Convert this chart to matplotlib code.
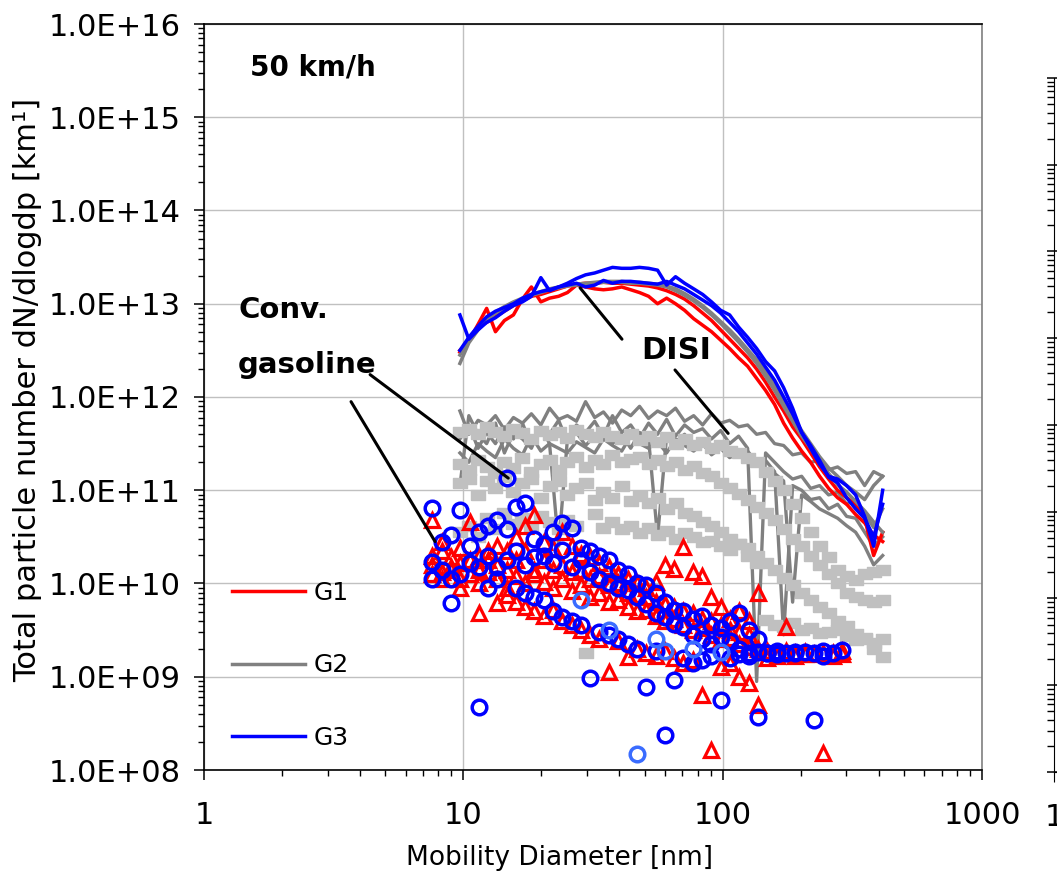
import numpy as np
import matplotlib
matplotlib.use("Agg")
import matplotlib.pyplot as plt
from matplotlib.lines import Line2D
from matplotlib.ticker import LogLocator, NullFormatter, FuncFormatter

nan = np.nan

# --- DATA (values are log10 of dN/dlogdp) ---
# DISI vehicle, SMPS channels [nm]
d_disi = [9.7, 10.5, 11.4, 12.3, 13.3, 14.4, 15.6, 16.9,
          18.3, 19.9, 21.5, 23.3, 25.2, 27.3, 29.6, 32.1,
          34.7, 37.6, 40.8, 44.2, 47.8, 51.8, 56.1, 60.8,
          65.8, 71.3, 77.3, 83.7, 90.6, 98.2, 106.4, 115.2,
          124.8, 135.2, 146.4, 158.6, 171.8, 186.1, 201.6, 218.4,
          236.5, 256.2, 277.5, 300.6, 325.6, 352.7, 382.1, 414.0]

disi_g1a = [12.50, 12.60, 12.78, 12.95, 12.70, 12.82, 12.88, 13.05,
            13.18, 13.02, 13.06, 13.08, 13.12, 13.20, 13.18, 13.16,
            13.15, 13.16, 13.18, 13.15, 13.12, 13.08, 13.00, 13.06,
            13.00, 12.93, 12.84, 12.77, 12.70, 12.61, 12.52, 12.42,
            12.33, 12.20, 12.07, 11.92, 11.72, 11.56, 11.42, 11.30,
            11.15, 11.02, 10.92, 10.85, 10.74, 10.65, 10.52, 10.45]
disi_g1b = [12.48, 12.62, 12.75, 12.80, 12.86, 12.92, 12.98, 13.03,
            13.08, 13.10, 13.13, 13.16, 13.19, 13.21, 13.22, 13.22,
            13.23, 13.22, 13.22, 13.21, 13.20, 13.19, 13.17, 13.14,
            13.10, 13.05, 12.98, 12.90, 12.82, 12.72, 12.62, 12.52,
            12.42, 12.30, 12.16, 12.00, 11.85, 11.68, 11.55, 11.40,
            11.25, 11.12, 11.00, 10.92, 10.85, 10.70, 10.30, 10.55]
disi_g2a = [12.36, 12.58, 12.72, 12.82, 12.90, 12.95, 13.00, 13.05,
            13.09, 13.12, 13.15, 13.17, 13.19, 13.20, 13.21, 13.22,
            13.23, 13.23, 13.23, 13.22, 13.22, 13.21, 13.20, 13.18,
            13.14, 13.09, 13.03, 12.96, 12.88, 12.79, 12.69, 12.59,
            12.48, 12.36, 12.22, 12.07, 11.90, 11.74, 11.58, 11.45,
            11.30, 11.18, 11.06, 10.98, 10.88, 10.78, 10.66, 10.55]
disi_g2b = [12.45, 12.60, 12.74, 12.84, 12.91, 12.97, 13.02, 13.06,
            13.10, 13.13, 13.16, 13.18, 13.20, 13.21, 13.22, 13.23,
            13.24, 13.24, 13.24, 13.23, 13.23, 13.22, 13.21, 13.19,
            13.16, 13.11, 13.05, 12.98, 12.90, 12.81, 12.72, 12.62,
            12.51, 12.40, 12.27, 12.12, 11.96, 11.80, 11.64, 11.50,
            11.36, 11.24, 11.15, 11.05, 10.98, 10.90, 11.05, 11.15]
disi_g3a = [12.88, 12.62, 12.72, 12.80, 12.85, 12.92, 12.98, 13.02,
            13.08, 13.28, 13.14, 13.18, 13.22, 13.27, 13.31, 13.33,
            13.36, 13.39, 13.38, 13.38, 13.39, 13.38, 13.36, 13.20,
            13.29, 13.22, 13.16, 13.10, 13.02, 12.93, 12.88, 12.75,
            12.64, 12.52, 12.38, 12.28, 12.10, 11.88, 11.62, 11.45,
            11.28, 11.15, 11.12, 11.05, 10.95, 10.72, 10.40, 11.00]
disi_g3b = [12.50, 12.64, 12.76, 12.86, 12.92, 12.96, 13.00, 13.06,
            13.10, 13.13, 13.15, 13.18, 13.20, 13.22, 13.18, 13.20,
            13.25, 13.22, 13.24, 13.24, 13.23, 13.22, 13.21, 13.24,
            13.20, 13.16, 13.10, 13.04, 12.98, 12.90, 12.80, 12.70,
            12.58, 12.46, 12.32, 12.18, 12.00, 11.82, 11.62, 11.48,
            11.32, 11.14, 11.08, 10.92, 10.80, 10.70, 10.50, 10.85]

# noisy G2 lines (dark grey)
grey_a = [11.85, 11.60, 11.75, 11.70, 11.80, 11.65, 11.78, 11.72,
          11.82, 11.70, 11.88, 11.76, 11.80, 11.74, 11.95, 11.78,
          11.84, 11.72, 11.86, 11.80, 11.90, 11.77, 11.85, 11.80,
          11.88, 11.74, 11.80, 11.70, 11.82, 11.72, 11.75, 11.68,
          11.70, 11.60, 11.62, 11.50, 11.48, 11.38, 11.40, 11.30,
          11.32, 11.22, 11.25, 11.18, 11.20, 11.05, 11.20, 11.15]
grey_b = [11.55, 11.70, 11.45, 11.62, 11.50, 11.68, 11.55, 11.72,
          11.48, 11.66, 11.60, 11.75, 11.52, 11.70, 11.62, 11.74,
          11.58, 11.80, 11.62, 11.70, 11.56, 11.72, 11.60, 11.76,
          11.58, 11.70, 11.62, 11.66, 11.55, 11.64, 11.50, 11.58,
          11.45, 8.95, 11.40, 11.30, 11.20, 11.12, 11.15, 11.02,
          11.05, 10.95, 10.98, 10.85, 10.90, 10.75, 10.60, 10.80]
grey_c = [11.05, 11.80, 11.60, 11.50, 11.72, 11.40, 11.62, 11.55,
          11.45, 11.68, 11.50, 10.40, 11.55, 11.62, 11.48, 11.58,
          11.65, 11.50, 11.60, 11.45, 11.62, 11.55, 10.50, 11.58,
          11.52, 11.60, 11.48, 11.55, 11.40, 11.52, 11.45, 11.38,
          11.42, 11.30, 11.32, 11.20, 9.45, 11.05, 11.00, 10.90,
          10.92, 10.80, 10.85, 10.72, 10.70, 10.55, 10.40, 10.50]
grey_d = [11.40, 11.30, 11.50, 11.42, 11.35, 11.55, 11.45, 11.38,
          11.58, 11.42, 11.50, 11.45, 11.40, 11.52, 11.46, 11.40,
          11.55, 11.48, 11.42, 11.58, 11.50, 11.45, 11.52, 11.40,
          11.55, 11.48, 11.42, 11.50, 11.38, 11.45, 11.35, 11.40,
          11.30, 11.32, 11.22, 11.18, 11.10, 9.80, 10.95, 10.88,
          10.80, 10.75, 10.70, 10.62, 10.55, 10.40, 10.20, 10.30]

# light grey squares
sq_1 = [11.62, 11.66, 11.60, 11.68, 11.63, 11.58, 11.66, 11.61,
        11.55, 11.64, 11.59, 11.62, 11.56, 11.65, 11.60, 11.57,
        11.63, 11.58, 11.55, 11.60, 11.54, 11.58, 11.52, 11.57,
        11.50, 11.55, 11.48, 11.52, 11.45, 11.48, 11.42, 11.40,
        11.35, 11.30, 11.20, 11.10, 11.00, 10.85, 10.70, 10.55,
        10.40, 10.28, 10.15, 10.08, 10.04, 10.10, 10.12, 10.14]
sq_2 = [11.28, 11.22, 11.32, 11.25, 11.18, 11.30, 11.24, 11.35,
        11.20, 11.28, 11.32, 11.22, 11.30, 11.36, 11.25, 11.32,
        11.28, 11.38, 11.30, 11.34, 11.36, 11.28, 11.32, 11.26,
        11.30, 11.22, 11.26, 11.18, 11.15, 11.08, 11.02, 10.96,
        10.90, 10.82, 10.76, 10.68, 10.58, 10.48, 10.40, 10.30,
        10.20, 10.10, 10.00, 9.90, 9.85, 9.82, 9.80, 9.82]
sq_3 = [11.08, 11.12, 10.95, 11.10, 11.02, 11.14, 10.98, 11.08,
        11.12, 10.92, 11.05, 11.10, 10.95, 11.02, 11.08, 10.90,
        10.98, 10.92, 11.05, 10.88, 10.94, 10.86, 10.92, 10.80,
        10.86, 10.76, 10.72, 10.66, 10.62, 10.55, 10.48, 10.42,
        10.38, 10.30, 10.22, 10.14, 10.06, 9.98, 9.90, 9.82,
        9.75, 9.68, 9.60, 9.54, 9.46, 9.40, 9.30, 9.21]
sq_4 = [10.55, 10.62, 10.50, 10.70, 10.58, 10.76, 10.64, 10.70,
        10.60, 10.72, 10.66, 10.58, 10.68, 10.62, 9.25, 10.74,
        10.60, 10.66, 10.58, 10.62, 10.54, 10.60, 10.52, 10.56,
        10.48, 10.54, 10.50, 10.44, 10.46, 10.40, 10.36, 10.42,
        10.30, 10.22, 9.61, 9.55, 9.53, 9.58, 9.50, 9.52,
        9.47, 9.48, 9.50, 9.44, 9.39, 9.42, 9.36, 9.40]

# conventional gasoline vehicle, SMPS channels [nm]
d_conv = [7.6, 8.3, 9.0, 9.7, 10.6, 11.5, 12.5, 13.5, 14.7,
          16.0, 17.3, 18.8, 20.4, 22.2, 24.1, 26.2, 28.4, 30.9,
          33.5, 36.4, 39.6, 43.0, 46.7, 50.7, 55.1, 59.8, 65.0,
          70.6, 76.7, 83.3, 90.5, 98.3, 106.8, 116.0, 126.0, 136.9,
          148.7, 161.5, 175.5, 190.6, 207.1, 225.0, 244.4, 265.5, 288.4]

tri_1 = [10.68, 10.35, 10.28, 10.22, 10.66, 10.30, 10.25, 10.40, 10.35,
         10.50, 10.62, 10.73, 10.45, 10.38, 10.55, 10.40, 10.32, 10.28,
         10.22, 10.18, 10.10, 10.05, 10.00, 9.95, 10.02, 10.20, 10.16,
         10.39, 10.12, 10.08, 9.85, 9.75, 9.62, 9.70, 9.60, 9.90,
         nan, nan, 9.53, nan, nan, nan, nan, nan, nan]
tri_2 = [10.20, 10.12, 10.15, 10.05, 10.10, 10.00, 10.12, 10.05, 9.95,
         10.08, 10.00, 10.15, 10.02, 9.95, 10.05, 9.92, 9.98, 9.85,
         9.90, 9.80, 9.82, 9.75, 9.70, 9.72, 9.65, 9.60, 9.62,
         9.55, 9.50, 9.52, 9.45, 9.40, 9.42, 9.35, 9.32, 9.30,
         9.28, 9.26, 9.28, 9.25, 9.27, 9.24, 9.26, 9.25, 9.28]
tri_3 = [10.10, 10.05, nan, 9.95, nan, 9.68, nan, 9.79, 9.88,
         9.80, 9.75, 9.70, 9.65, 9.72, 9.60, 9.55, 9.50, 9.45,
         9.40, 9.05, 9.38, 9.21, 9.30, 9.25, 9.22, 9.28, 9.20,
         9.15, 9.18, 8.80, 8.21, 9.10, 9.15, 9.00, 8.93, 8.70,
         9.20, 9.22, 9.25, 9.22, 9.24, nan, 8.18, 9.22, 9.24]
tri_4 = [10.30, 10.45, 10.18, 10.38, 10.25, 10.15, 10.35, 10.20, 10.15,
         10.25, 10.35, 10.10, 10.25, 10.15, 10.20, 10.12, 10.15, 10.05,
         10.08, 9.98, 10.00, 9.90, 9.88, 9.85, 9.80, 9.78, 9.75,
         9.70, 9.68, 9.62, 9.60, 9.55, 9.50, 9.48, 9.45, nan,
         nan, nan, nan, nan, nan, nan, nan, nan, nan]

circ_1 = [10.81, 10.45, 10.52, 10.79, 10.40, 10.55, 10.62, 10.68, 10.58,
          10.82, 10.86, 10.48, 10.42, 10.55, 10.65, 10.60, 10.38, 10.35,
          10.30, 10.25, 10.15, 10.10, 10.00, 9.98, 9.90, 9.80, 9.72,
          9.70, 9.62, 9.65, 9.55, 9.52, 9.60, 9.68, 9.50, 9.40,
          nan, 9.28, nan, nan, nan, nan, nan, nan, nan]
circ_2 = [10.23, 10.15, 10.05, 10.10, 10.22, 10.18, 10.30, 10.18, 10.25,
          10.35, 10.20, 10.28, 10.30, 10.22, 10.36, 10.18, 10.25, 10.12,
          10.05, 10.00, 9.95, 9.93, 9.85, 9.78, 9.68, 9.64, 9.57,
          9.53, 9.45, 9.40, 9.35, 9.43, 9.38, 9.30, 9.25, 9.27,
          9.25, 9.24, 9.26, 9.25, 9.27, 9.26, 9.28, 9.26, 9.29]
circ_3 = [10.05, nan, 9.79, nan, nan, 8.68, 9.95, 10.05, 11.13,
          9.95, 9.90, 9.85, 9.82, 9.70, 9.64, 9.60, 9.55, 8.99,
          9.48, 9.45, 9.40, 9.35, 9.30, 8.89, 9.28, 8.38, 8.97,
          9.20, 9.15, 9.18, 9.22, 8.75, 9.20, 9.24, 9.22, 8.57,
          9.25, nan, nan, 9.27, nan, 8.54, 9.22, nan, nan]
circ_light = [nan, nan, nan, nan, nan, nan, nan, nan, nan,
              nan, nan, nan, nan, nan, nan, nan, 9.82, nan,
              nan, 9.50, nan, nan, 8.17, nan, 9.40, 9.28, nan,
              nan, 9.30, nan, nan, 9.27, nan, nan, nan, nan,
              nan, nan, nan, nan, nan, nan, nan, nan, nan]

legend_labels = ["G1", "G2", "G3"]

RED = "#ff0000"
BLUE = "#0000ff"
GREY = "#808080"
LGREY = "#c0c0c0"


def val(a):
    return 10 ** np.array(a, dtype=float)


fig = plt.figure(figsize=(10.57, 8.8), dpi=100)
ax = fig.add_axes([204 / 1057, 110 / 880, 778 / 1057, 746 / 880])
ax.set_xscale("log")
ax.set_yscale("log")

# noisy grey lines
for g in [grey_a, grey_b, grey_c, grey_d]:
    ax.plot(d_disi, val(g), color=GREY, lw=2.4, zorder=2)

# light grey squares
sq_marker = [(-1, -0.65), (1, -0.65), (1, 0.65), (-1, 0.65), (-1, -0.65)]
for s in [sq_1, sq_2, sq_3, sq_4]:
    ax.plot(d_disi, val(s), ls="none", marker=sq_marker, ms=10.5,
            color=LGREY, mec=LGREY, zorder=3)

# triangles and circles
for t in [tri_1, tri_2, tri_3, tri_4]:
    ax.plot(d_conv, val(t), ls="none", marker="^", ms=10.5, mfc="none",
            mec=RED, mew=2.3, zorder=4)
for c in [circ_1, circ_2, circ_3]:
    ax.plot(d_conv, val(c), ls="none", marker="o", ms=10.5, mfc="none",
            mec=BLUE, mew=2.5, zorder=5)
ax.plot(d_conv, val(circ_light), ls="none", marker="o", ms=10.5, mfc="none",
        mec="#3a6cff", mew=2.5, zorder=5)

# DISI lines
for y, col in [(disi_g1a, RED), (disi_g1b, RED), (disi_g2a, GREY),
               (disi_g2b, GREY), (disi_g3b, BLUE), (disi_g3a, BLUE)]:
    ax.plot(d_disi, val(y), color=col, lw=2.5, zorder=6)

ax.set_xlim(1, 1000)
ax.set_ylim(1e8, 1e16)

ax.yaxis.set_major_locator(LogLocator(base=10, numticks=20))
ax.yaxis.set_minor_locator(LogLocator(base=10, subs=np.arange(2, 10), numticks=20))
ax.yaxis.set_major_formatter(FuncFormatter(lambda v, p: f"{v:.1E}"))
ax.yaxis.set_minor_formatter(NullFormatter())
ax.xaxis.set_major_formatter(FuncFormatter(lambda v, p: f"{v:g}"))
ax.xaxis.set_minor_formatter(NullFormatter())

ax.tick_params(which="major", direction="out", length=7, width=1.1,
               labelsize=22)
ax.tick_params(which="minor", direction="out", length=4, width=1.0)
ax.tick_params(axis="y", which="major", pad=10)
ax.tick_params(axis="x", which="major", pad=15)

ax.grid(True, which="major", color=LGREY, lw=1.0)
ax.set_axisbelow(True)
for side in ["left", "bottom", "top"]:
    ax.spines[side].set_color("black")
    ax.spines[side].set_linewidth(1.2)
ax.spines["right"].set_color(GREY)
ax.spines["right"].set_linewidth(1.2)

# legend
handles = [Line2D([], [], color=c, lw=2.5) for c in [RED, GREY, BLUE]]
ax.legend(handles, legend_labels, loc="upper left",
          bbox_to_anchor=(0.036, 0.254), frameon=False, fontsize=18,
          handlelength=2.9, handletextpad=0.35, labelspacing=1.95,
          borderpad=0, borderaxespad=0)

# annotations
ax.text(1.5, 10 ** 15.53, "50 km/h", fontsize=20, fontweight="bold",
        va="center", ha="left")
ax.text(1.353, 10 ** 12.93, "Conv.", fontsize=21, fontweight="bold",
        va="center", ha="left")
ax.text(1.353, 10 ** 12.34, "gasoline", fontsize=21, fontweight="bold",
        va="center", ha="left")
ax.text(66.1, 10 ** 12.5, "DISI", fontsize=22, fontweight="bold",
        va="center", ha="center")
for (x0, y0), (x1, y1) in [((4.37, 12.24), (14.9, 11.13)),
                           ((3.69, 11.95), (7.78, 10.45)),
                           ((28.2, 13.17), (40.9, 12.62)),
                           ((65.5, 12.29), (105.0, 11.61))]:
    ax.annotate("", xy=(x1, 10 ** y1), xytext=(x0, 10 ** y0),
                arrowprops=dict(arrowstyle="-", color="black", lw=2.2,
                                shrinkA=0, shrinkB=0), zorder=8)

fig.text(28 / 1057, 1 - 390 / 880, "Total particle number dN/dlogdp [km¹]",
         rotation=90, ha="center", va="center", fontsize=22)
fig.text(560 / 1057, 1 - 858 / 880, "Mobility Diameter [nm]",
         ha="center", va="center", fontsize=19)

# neighbouring panel (cut off at the right edge)
ax2 = fig.add_axes([1054 / 1057, 108 / 880, 0.2, 694 / 880])
ax2.set_xscale("log")
ax2.set_yscale("log")
ax2.set_xlim(1, 1000)
ax2.set_ylim(1e8, 1e16)
ax2.set_xticks([1])
ax2.yaxis.set_major_locator(LogLocator(base=10, numticks=20))
ax2.yaxis.set_minor_locator(LogLocator(base=10, subs=np.arange(2, 10), numticks=20))
ax2.yaxis.set_major_formatter(NullFormatter())
ax2.yaxis.set_minor_formatter(NullFormatter())
ax2.xaxis.set_major_formatter(FuncFormatter(lambda v, p: f"{v:g}"))
ax2.xaxis.set_minor_formatter(NullFormatter())
ax2.tick_params(axis="y", which="major", direction="inout", length=10, width=1.1)
ax2.tick_params(axis="y", which="minor", direction="out", length=5, width=1.0)
ax2.tick_params(axis="x", which="major", direction="out", length=7,
                labelsize=22, pad=15)
ax2.tick_params(axis="x", which="minor", length=0)
ax2.spines["top"].set_visible(False)
ax2.spines["right"].set_visible(False)
ax2.patch.set_alpha(0)

fig.savefig("out.png", dpi=100)
